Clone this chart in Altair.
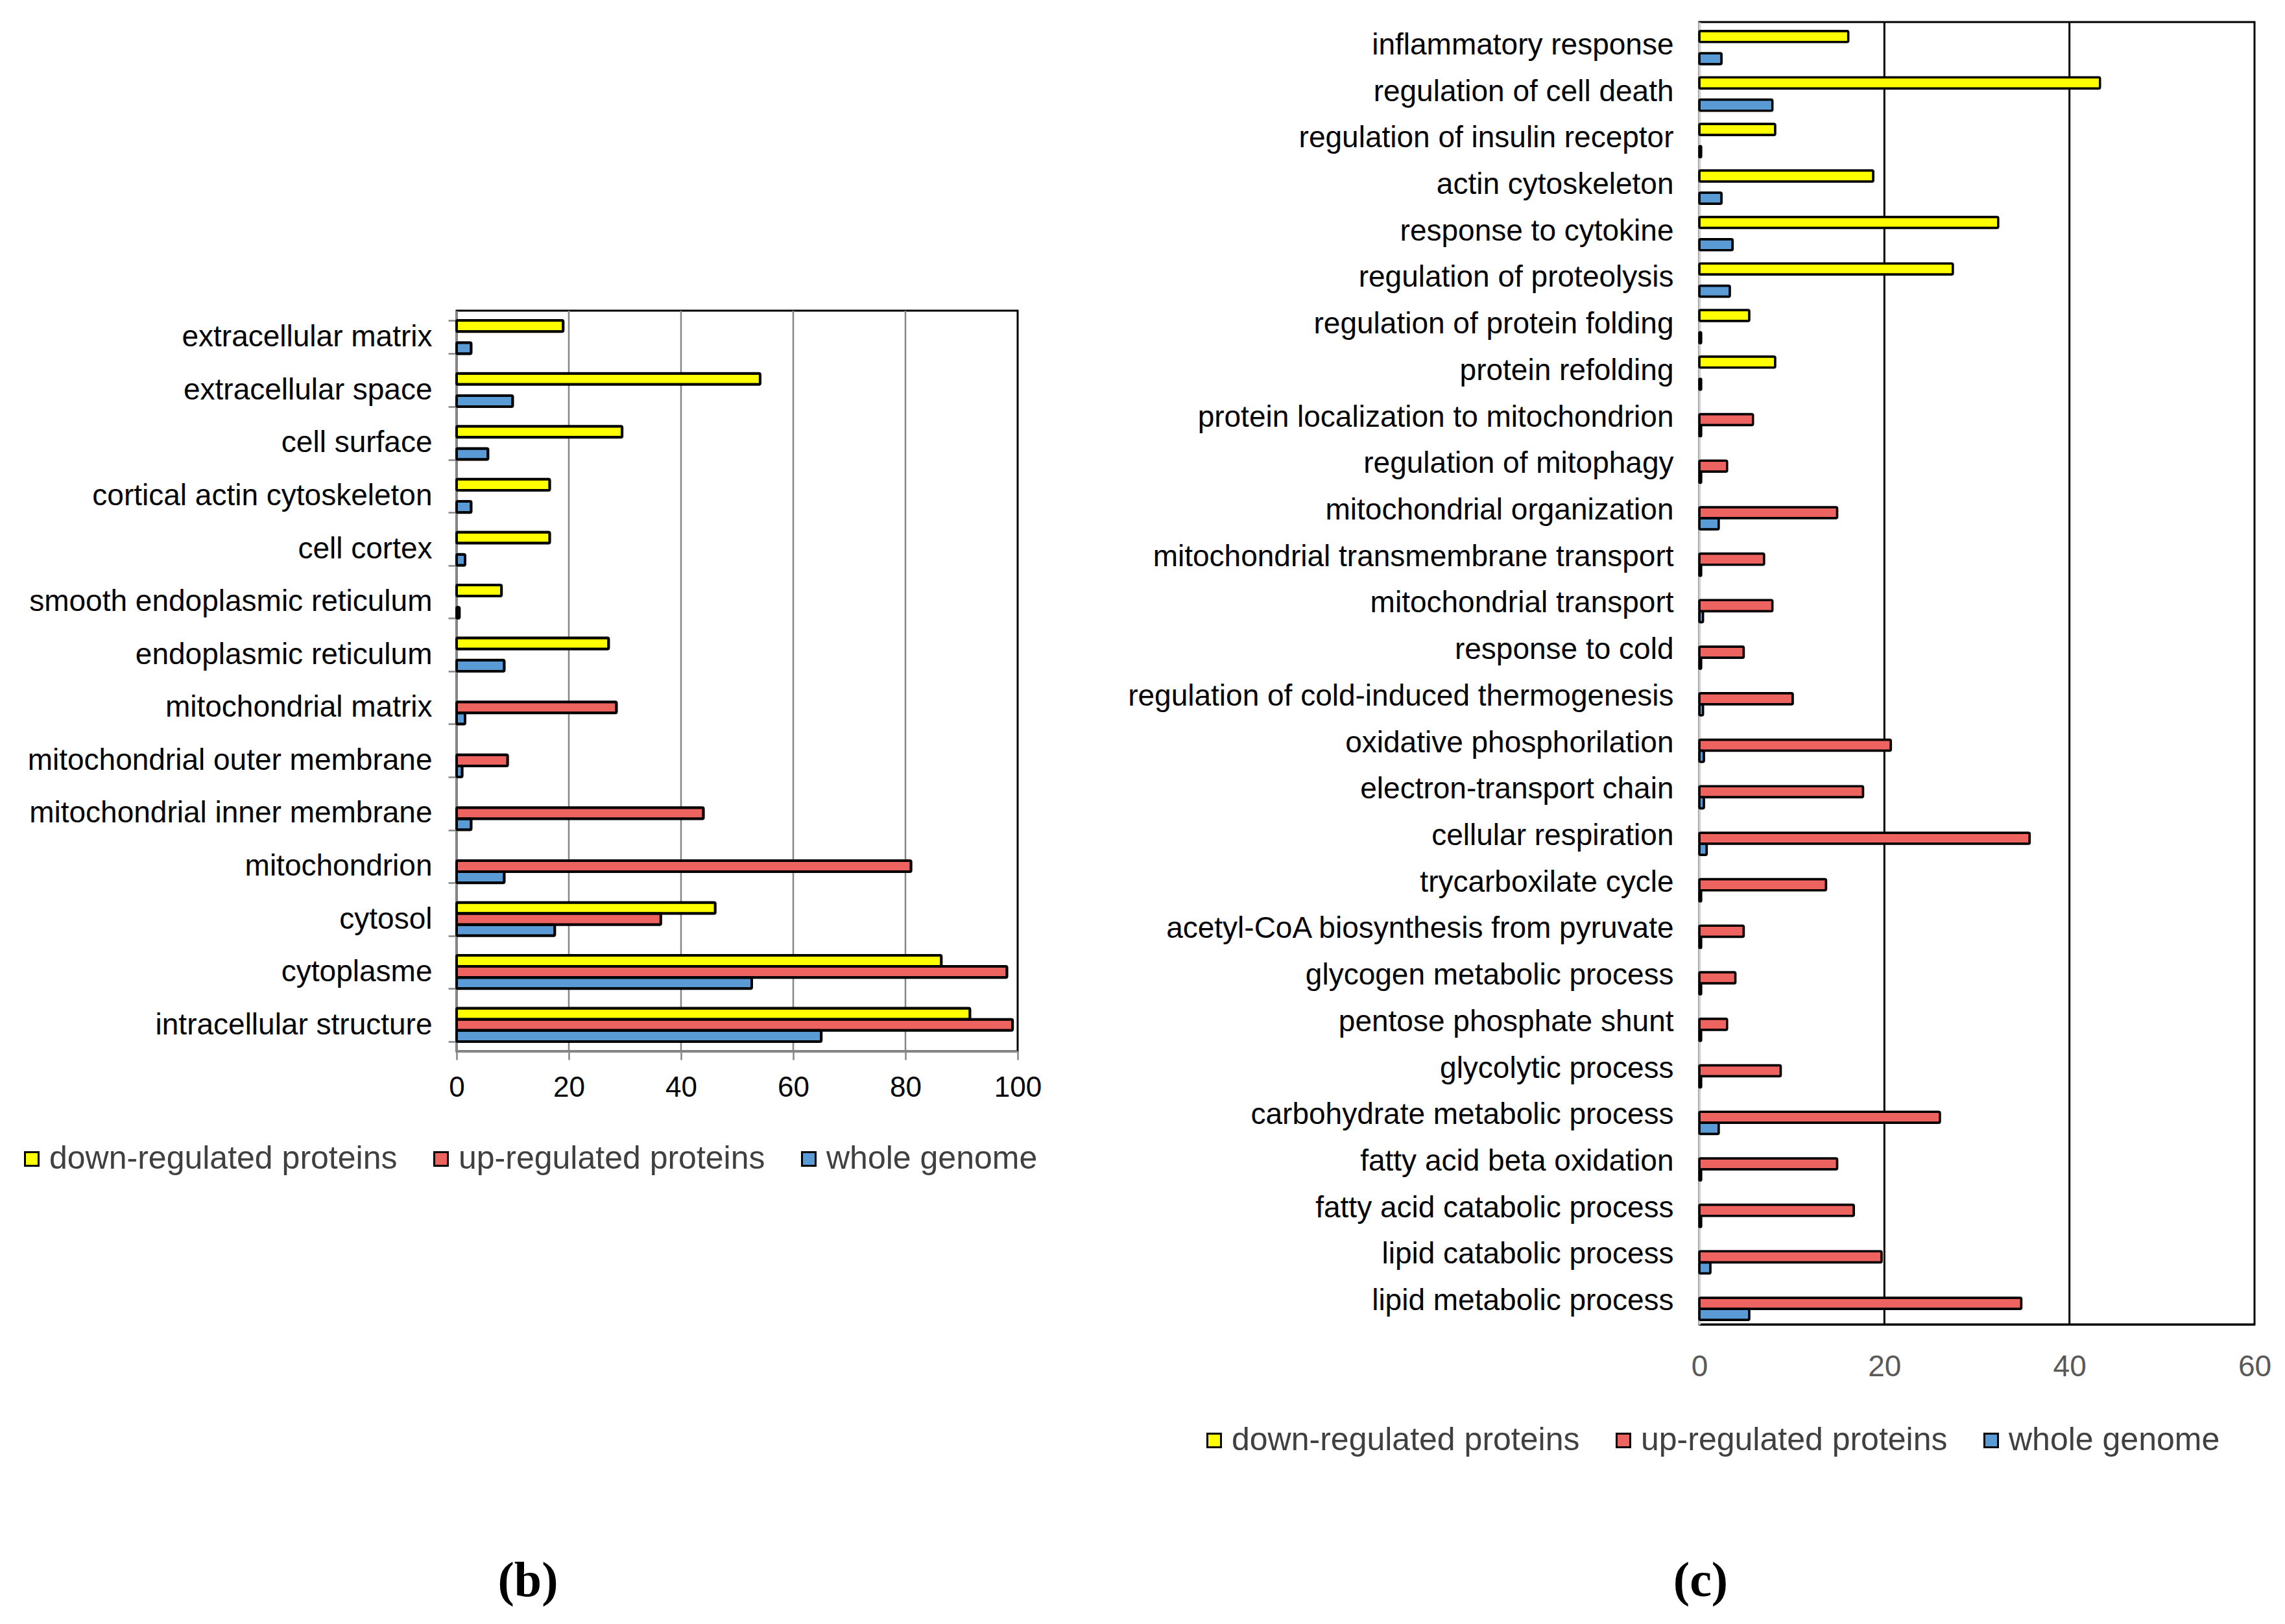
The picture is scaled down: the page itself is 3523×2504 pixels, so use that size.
import altair as alt
import pandas as pd

series = ["down-regulated proteins", "up-regulated proteins", "whole genome"]
colors = ["#FFFF00", "#EC6360", "#5B9BD5"]

# ---- panel (b) ----
cats_b = ["extracellular matrix", "extracellular space", "cell surface",
          "cortical actin cytoskeleton", "cell cortex",
          "smooth endoplasmic reticulum\u00a0", "endoplasmic reticulum",
          "mitochondrial matrix", "mitochondrial outer membrane",
          "mitochondrial inner membrane", "mitochondrion", "cytosol",
          "cytoplasme", "intracellular structure"]
down_b = [19.0, 54.1, 29.5, 16.6, 16.6, 8.0, 27.1, 0, 0, 0, 0, 46.1, 86.4, 91.5]
up_b = [0, 0, 0, 0, 0, 0, 0, 28.5, 9.1, 44.0, 81.0, 36.4, 98.1, 99.1]
genome_b = [2.6, 10.0, 5.6, 2.6, 1.5, 0.5, 8.5, 1.5, 1.0, 2.6, 8.5, 17.5, 52.6, 65.0]
ticks_b = [0, 20, 40, 60, 80, 100]
grid_b = [20, 40, 60, 80]

# ---- panel (c) ----
cats_c = ["inflammatory response", "regulation of cell death",
          "regulation of insulin receptor", "actin cytoskeleton\u00a0",
          "response to cytokine", "regulation of proteolysis",
          "regulation of protein folding", "protein refolding",
          "protein localization to mitochondrion", "regulation of mitophagy",
          "mitochondrial organization", "mitochondrial transmembrane transport",
          "mitochondrial transport", "response to cold",
          "regulation of cold-induced thermogenesis", "oxidative phosphorilation",
          "electron-transport chain", "cellular respiration",
          "trycarboxilate cycle", "acetyl-CoA biosynthesis from pyruvate",
          "glycogen metabolic process", "pentose phosphate shunt",
          "glycolytic process", "carbohydrate metabolic process",
          "fatty acid beta oxidation", "fatty acid catabolic process",
          "lipid catabolic process", "lipid metabolic process"]
down_c = [16.1, 43.3, 8.2, 18.8, 32.3, 27.4, 5.4, 8.2,
          0, 0, 0, 0, 0, 0, 0, 0, 0, 0, 0, 0, 0, 0, 0, 0, 0, 0, 0, 0]
up_c = [0, 0, 0, 0, 0, 0, 0, 0,
        5.8, 3.0, 14.9, 7.0, 7.9, 4.8, 10.1, 20.7, 17.7, 35.7, 13.7, 4.8,
        3.9, 3.0, 8.8, 26.0, 14.9, 16.7, 19.7, 34.8]
genome_c = [2.4, 7.9, 0.2, 2.4, 3.6, 3.3, 0.2, 0.2, 0.2, 0.2, 2.1, 0.2, 0.4, 0.2,
            0.4, 0.5, 0.5, 0.8, 0.2, 0.2, 0.2, 0.2, 0.2, 2.1, 0.2, 0.2, 1.2, 5.4]
ticks_c = [0, 20, 40, 60]
grid_c = [20, 40]

FONT = "Liberation Sans"


def long_df(cats, down, up, genome):
    rows = []
    for i, c in enumerate(cats):
        for s, vals in zip(series, (down, up, genome)):
            rows.append({"category": c, "series": s, "value": vals[i]})
    return pd.DataFrame(rows)


df_b = long_df(cats_b, down_b, up_b, genome_b)
df_c = long_df(cats_c, down_c, up_c, genome_c)


def make_legend(lx, ly):
    return alt.Legend(title=None, orient="none", legendX=lx, legendY=ly,
                      direction="horizontal", columns=3, symbolType="square",
                      symbolSize=440, symbolStrokeColor="black",
                      symbolStrokeWidth=3, labelFont=FONT, labelFontSize=50,
                      labelColor="#404040", columnPadding=42, labelOffset=2,
                      labelLimit=1000)


# x axes
axis_xb = alt.Axis(values=ticks_b, grid=False, title=None, labelFont=FONT,
                   labelFontSize=44, labelColor="black", domainColor="#868686",
                   domainWidth=3, tickColor="#868686", tickWidth=2.5, tickSize=13,
                   labelPadding=21, labelFlush=False)
scale_xb = alt.Scale(domain=[0, 100], nice=False)
axis_xc = alt.Axis(values=ticks_c, grid=False, title=None, labelFont=FONT,
                   labelFontSize=46, labelColor="#595959", domainColor="black",
                   domainWidth=3, ticks=False, labelPadding=43, labelFlush=False)
scale_xc = alt.Scale(domain=[0, 60], nice=False)

# panel b layers
rules_b = alt.Chart(pd.DataFrame({"g": grid_b})).mark_rule(
    color="#868686", strokeWidth=2.5).encode(
    x=alt.X("g:Q", scale=scale_xb, axis=axis_xb))

bars_b = alt.Chart(df_b).transform_filter("datum.value > 0").mark_bar(
    stroke="black", strokeWidth=4, cornerRadius=2).encode(
    x=alt.X("value:Q", scale=scale_xb, axis=axis_xb),
    y=alt.Y("category:N", sort=cats_b,
            scale=alt.Scale(paddingInner=0.37, paddingOuter=0.185),
            axis=alt.Axis(title=None, labelFont=FONT, labelFontSize=46,
                          labelColor="black", labelLimit=1000, tickBand="extent",
                          tickSize=13, tickColor="#868686", tickWidth=2.5,
                          domainColor="#868686", domainWidth=3, labelPadding=25)),
    yOffset=alt.YOffset("series:N", sort=series,
                        scale=alt.Scale(paddingInner=0, paddingOuter=0)),
    color=alt.Color("series:N", sort=series,
                    scale=alt.Scale(domain=series, range=colors),
                    legend=make_legend(-680, 1728)),
)

label_b = alt.Chart(pd.DataFrame({"t": ["(b)"]})).mark_text(
    font="Liberation Serif", fontSize=76, fontWeight="bold", color="black").encode(
    x=alt.value(110), y=alt.value(1959), text="t:N")

layer_b = alt.layer(rules_b, bars_b, label_b).properties(
    width=865, height=1142,
    view=alt.ViewBackground(stroke="black", strokeWidth=3))

spacer = alt.Chart(pd.DataFrame({"s": [0]})).mark_point(opacity=0).encode(
    x=alt.value(0), y=alt.value(0)).properties(
    width=865, height=445, view=alt.ViewBackground(stroke="transparent"))

panel_b = alt.vconcat(spacer, layer_b, spacing=0, bounds="flush")

# panel c layers
rules_c = alt.Chart(pd.DataFrame({"g": grid_c})).mark_rule(
    color="black", strokeWidth=3).encode(
    x=alt.X("g:Q", scale=scale_xc, axis=axis_xc))

bars_c = alt.Chart(df_c).transform_filter("datum.value > 0").mark_bar(
    stroke="black", strokeWidth=3.5, cornerRadius=2).encode(
    x=alt.X("value:Q", scale=scale_xc, axis=axis_xc),
    y=alt.Y("category:N", sort=cats_c,
            scale=alt.Scale(paddingInner=0.38, paddingOuter=0.19),
            axis=alt.Axis(title=None, labelFont=FONT, labelFontSize=46,
                          labelColor="black", labelLimit=1000, ticks=False,
                          domainColor="#d0d0d0", domainWidth=3.5, labelPadding=40)),
    yOffset=alt.YOffset("series:N", sort=series,
                        scale=alt.Scale(paddingInner=0, paddingOuter=0)),
    color=alt.Color("series:N", sort=series,
                    scale=alt.Scale(domain=series, range=colors),
                    legend=make_legend(-773, 2162)),
)

label_c = alt.Chart(pd.DataFrame({"t": ["(c)"]})).mark_text(
    font="Liberation Serif", fontSize=76, fontWeight="bold", color="black").encode(
    x=alt.value(2), y=alt.value(2404), text="t:N")

layer_c = alt.layer(rules_c, bars_c, label_c).properties(
    width=856, height=2008,
    view=alt.ViewBackground(stroke="black", strokeWidth=3))

chart = alt.hconcat(panel_b, layer_c, spacing=1916, bounds="flush").resolve_scale(
    color="independent", x="independent", y="independent"
).properties(
    padding={"left": 16, "top": 23, "right": 10, "bottom": 10},
    background="white",
).configure_view(strokeWidth=0)

chart.save("out.html", embed_options={"renderer": "svg", "actions": False})
